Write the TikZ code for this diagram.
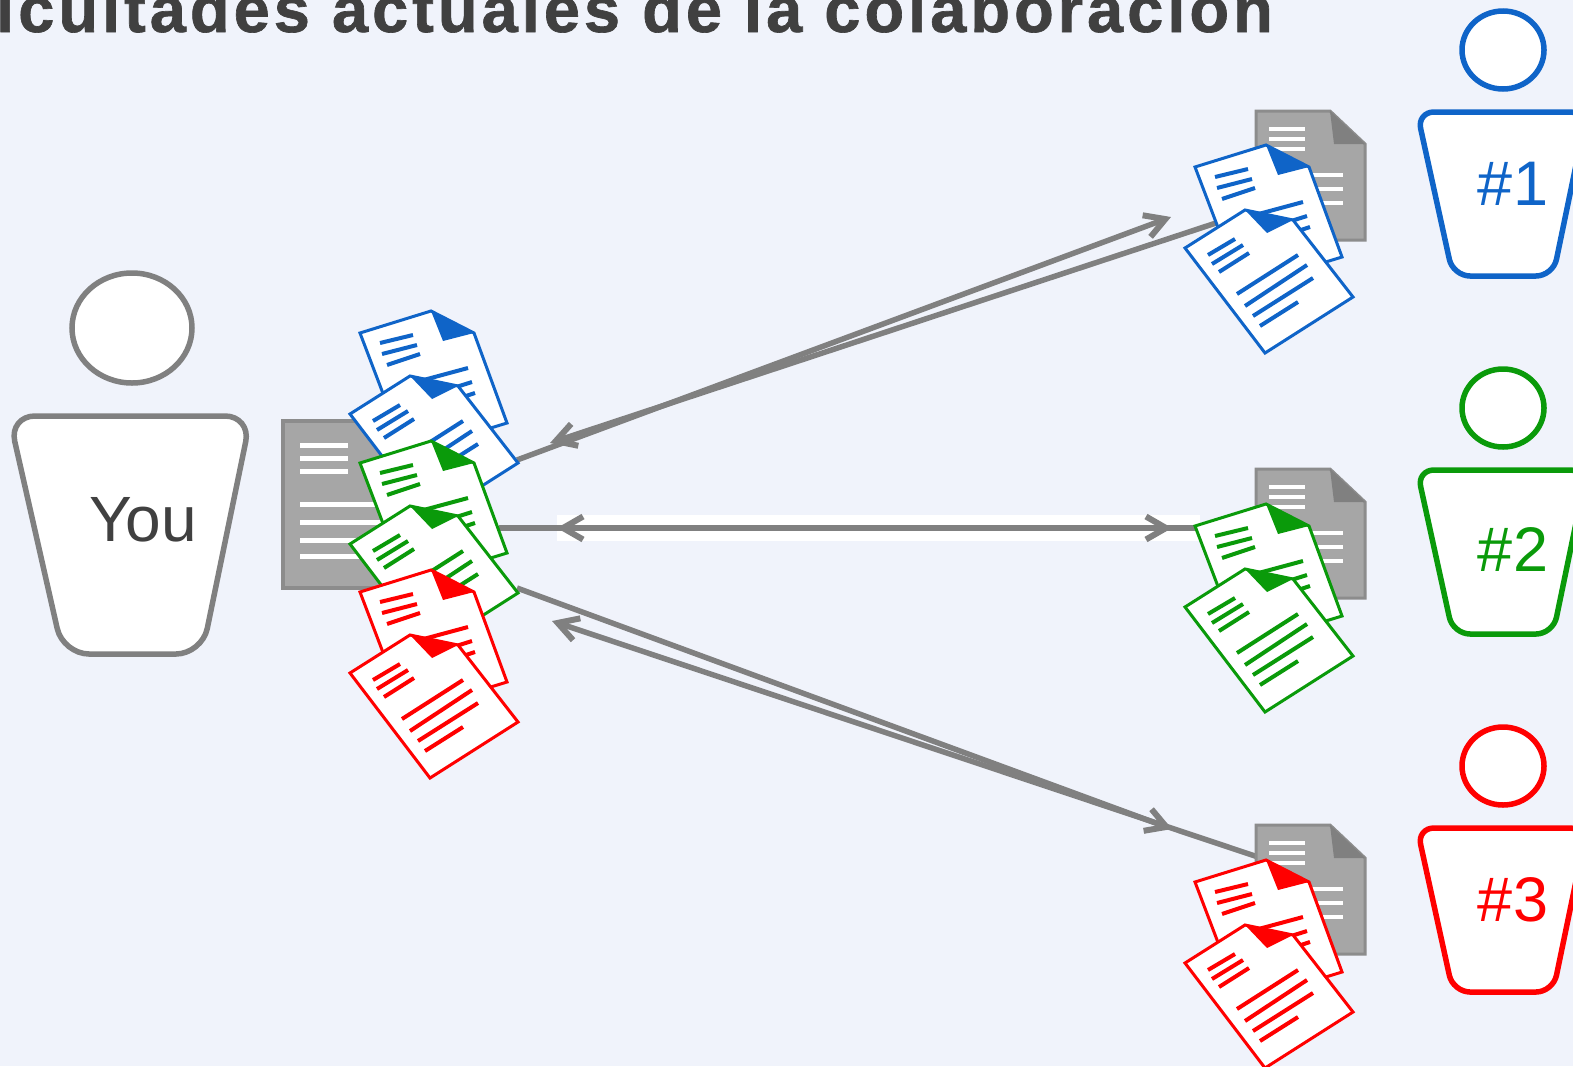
\documentclass[tikz,border=0pt]{standalone}
\usepackage{fontspec}
\setmainfont{Liberation Sans}
\usetikzlibrary{arrows.meta}
\definecolor{bgc}{HTML}{F0F3FB}
\definecolor{linkc}{HTML}{808080}
\definecolor{docc}{HTML}{A6A6A6}
\definecolor{docd}{HTML}{8C8C8C}
\definecolor{foldc}{HTML}{808080}
\definecolor{pblue}{HTML}{0F64C8}
\definecolor{pgreen}{HTML}{0A9A0A}
\definecolor{pred}{HTML}{FF0000}
\definecolor{titlec}{HTML}{404040}
\tikzset{
  link/.style={draw=linkc,line width=5.5pt,-{Straight Barb[length=20pt,width=23pt,line width=6pt]}},
  sheet/.style={fill=white,line width=3pt,line join=miter},
  ink/.style={line width=4pt},
  docw/.style={draw=white,line width=4pt},
  pics/papers/.style={code={
    \draw[sheet,draw=#1] (360,592)--(431,570)--(474,592)--(507,682)--(406,713)--cycle;
    \fill[#1] (431,570)--(474,592)--(443,600)--cycle;
    \draw[ink,draw=#1] (380,602)--(413,594) (382,613)--(417,604) (387,624)--(420,613);
    \draw[ink,draw=#1] (405,644)--(468,627) (415,659)--(472,641) (430,667)--(475,652);
    \draw[sheet,draw=#1] (350,673)--(410,635)--(458,645)--(518,722)--(430,778)--cycle;
    \fill[#1] (410,635)--(458,645)--(432,658)--cycle;
    \draw[ink,draw=#1] (373,680)--(400,664) (377,689)--(408,670) (384,697)--(414,678);
    \draw[ink,draw=#1] (402,719)--(463,680) (410,731)--(472,690) (418,741)--(478,703) (425,751)--(463,727);
  }},
  pics/smalldoc/.style={code={
    \draw[fill=docc,draw=docd,line width=3pt] (1256,111)--(1330,111)--(1365,144)--(1365,240)--(1256,240)--cycle;
    \fill[foldc] (1330,111)--(1365,144)--(1334,144)--cycle;
    \draw[docw] (1269,129)--(1305,129) (1269,139)--(1305,139) (1269,149)--(1305,149);
    \draw[docw] (1269,175)--(1343,175) (1269,189)--(1343,189) (1269,203)--(1343,203);
  }},
  pics/person/.style={code={
    \draw[fill=white,draw=#1,line width=5.5pt] (1503,50) ellipse [x radius=41,y radius=39];
    \draw[fill=white,draw=#1,line width=5.5pt,rounded corners=17pt]
      (1417,112)--(1587,112)--(1553,276)--(1453,276)--cycle;
  }}
}
\begin{document}
\begin{tikzpicture}[x=1pt,y=-1pt]
\useasboundingbox (0,0) rectangle (1573,1066);
\fill[bgc] (0,0) rectangle (1573,1066);
\clip (0,0) rectangle (1573,1066);
\node[anchor=base west,inner sep=0pt,text=titlec,font=\fontsize{65}{65}\selectfont\bfseries] (title) at (-4,32) {\addfontfeatures{LetterSpace=6.15,FakeBold=1}icultades actuales de la colaboración};
\fill[white] (557,515) rectangle (1200,541);

\coordinate (you1) at (517,460);
\coordinate (you2) at (499,528);
\coordinate (you3) at (517,588);
\coordinate (in1) at (550,443);
\coordinate (in2) at (557,528);
\coordinate (in3) at (552,621);
\coordinate (peer1) at (1216,223);
\coordinate (peer2) at (1202,528);
\coordinate (peer3) at (1258,857);
\coordinate (out1) at (1171,217);
\coordinate (out2) at (1172,528);
\coordinate (out3) at (1172,829);
\draw[link] (you1)--(out1);
\draw[link] (peer1)--(in1);
\draw[link] (you2)--(out2);
\draw[link] (peer2)--(in2);
\draw[link] (you3)--(out3);
\draw[link] (peer3)--(in3);

\draw[fill=docc,draw=docd,line width=4pt] (283,421) rectangle (425,588);
\draw[docw,line width=5pt] (300,445)--(348,445) (300,458)--(348,458) (300,471)--(348,471);
\draw[docw,line width=5pt] (300,504)--(400,504) (300,522)--(400,522) (300,540)--(400,540) (300,556)--(400,556);
\pic at (0,-259) {papers=pblue};
\pic at (0,-129) {papers=pgreen};
\pic at (0,0) {papers=pred};

\pic at (0,0) {smalldoc};
\pic at (0,358) {smalldoc};
\pic at (0,714) {smalldoc};
\pic at (835,-425) {papers=pblue};
\pic at (835,-66) {papers=pgreen};
\pic at (835,290) {papers=pred};

\draw[fill=white,draw=linkc,line width=5.5pt] (132,328) ellipse [x radius=60,y radius=55];
\draw[fill=white,draw=linkc,line width=5.5pt,rounded corners=26pt] (9,416)--(251,416)--(202,654)--(63,654)--cycle;
\node[inner sep=0pt,text=titlec,font=\fontsize{64}{64}\selectfont] (you) at (143,520) {You};
\pic at (0,0) {person=pblue};
\pic at (0,358) {person=pgreen};
\pic at (0,716) {person=pred};
\node[inner sep=0pt,text=pblue,font=\fontsize{63}{63}\selectfont] (n1) at (1513,184) {\#1};
\node[inner sep=0pt,text=pgreen,font=\fontsize{63}{63}\selectfont] (n2) at (1513,549) {\#2};
\node[inner sep=0pt,text=pred,font=\fontsize{63}{63}\selectfont] (n3) at (1513,900) {\#3};
\end{tikzpicture}
\end{document}
